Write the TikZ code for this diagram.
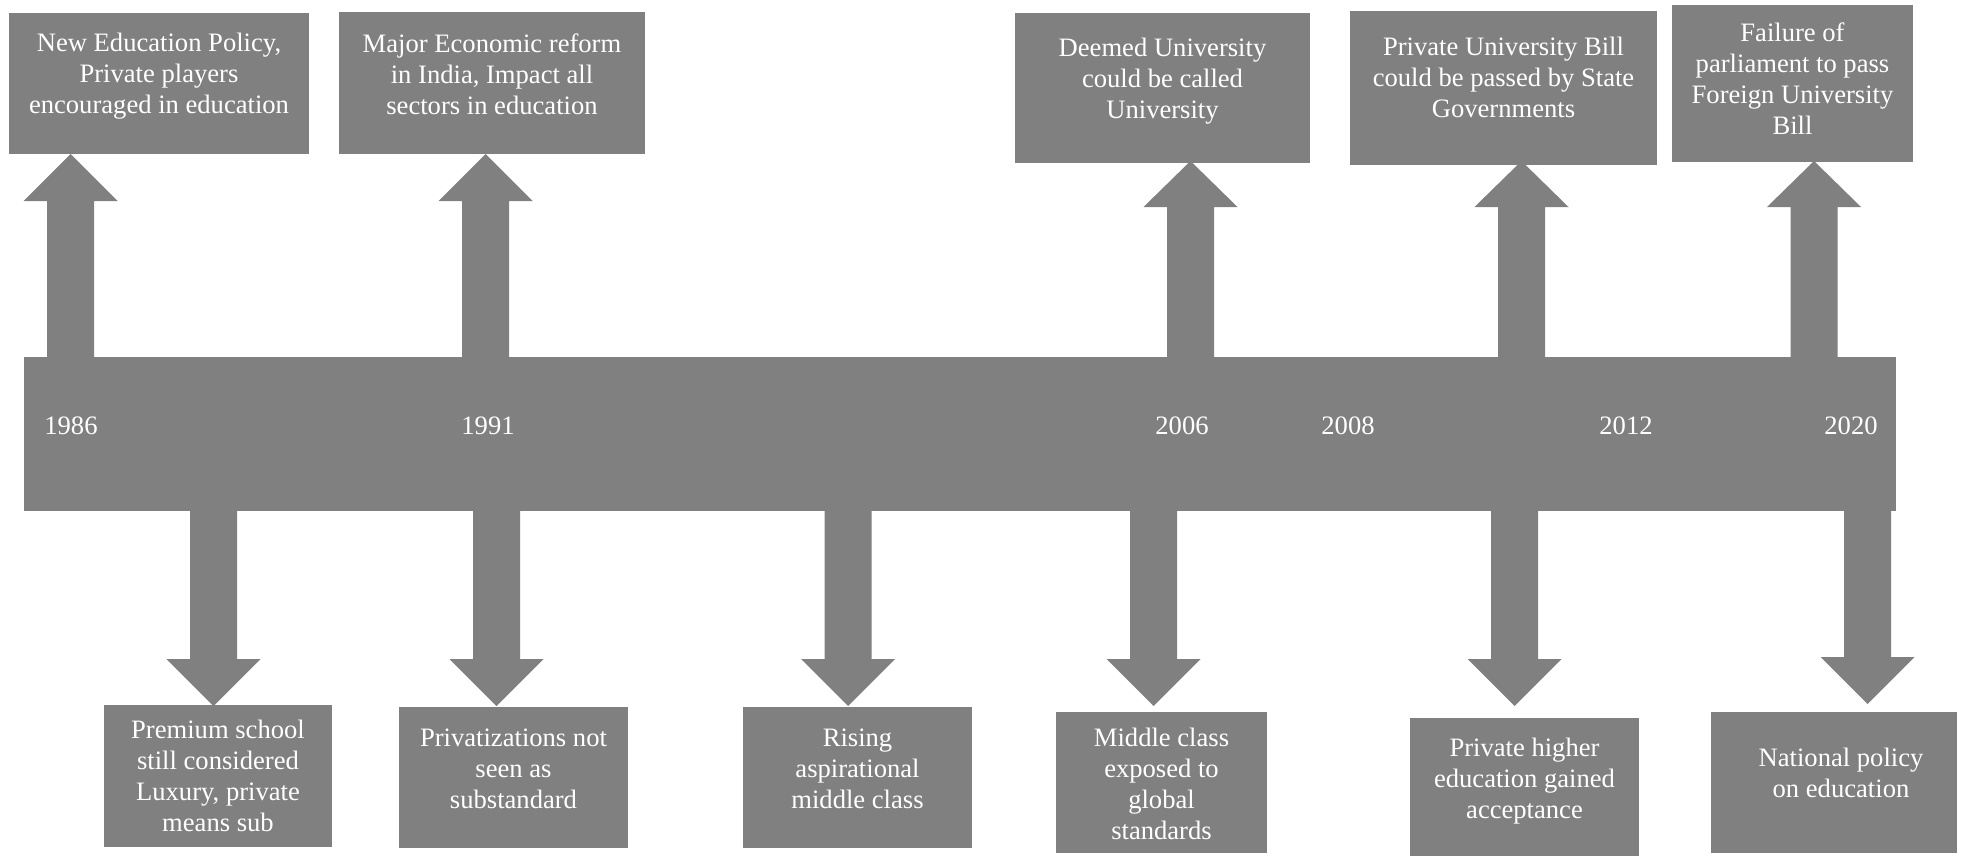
\documentclass[tikz,border=0pt]{standalone}
\usepackage{fontspec}
\setmainfont{Liberation Serif}
\usetikzlibrary{calc}
\definecolor{boxgray}{RGB}{128,128,128}
% Block arrow: #1 base point, #2 tip point, #3 signed head length (px)
\newcommand\blockarrow[3]{%
  \fill[boxgray] ($(#1)+(-23.5,0)$) -- ($(#2)+(-23.5,#3)$) -- ($(#2)+(-47,#3)$)
    -- (#2) -- ($(#2)+(47,#3)$) -- ($(#2)+(23.5,#3)$) -- ($(#1)+(23.5,0)$) -- cycle;}
\begin{document}
\begin{tikzpicture}[x=0.5pt,y=-0.5pt,
  panel/.style n args={2}{fill=boxgray, draw=none, inner sep=0pt, outer sep=0pt,
    minimum width=#1*0.5pt, minimum height=#2*0.5pt, anchor=north west},
  lbl/.style={text=white, align=center, inner sep=0pt,
    font=\fontsize{13.3}{15.5}\selectfont},
  year/.style={text=white, inner sep=0pt, font=\fontsize{13.3}{15.5}\selectfont}]
\useasboundingbox[fill=white] (0,0) rectangle (1966,856);

% timeline bar
\node[panel={1872}{154}] (bar) at (23.7,357) {};

% event boxes above the bar
\node[panel={300}{141}] (t1) at (9,13) {};
\node[panel={306}{142}] (t2) at (339,12) {};
\node[panel={295}{150}] (t3) at (1015,13) {};
\node[panel={307}{154}] (t4) at (1350,11) {};
\node[panel={241}{157}] (t5) at (1672,5) {};

% outcome boxes below the bar
\node[panel={228}{142}] (b1) at (104,705) {};
\node[panel={229}{141}] (b2) at (399,707) {};
\node[panel={229}{141}] (b3) at (743,707) {};
\node[panel={211}{141}] (b4) at (1056,712) {};
\node[panel={229}{140}] (b5) at (1410,718) {};
\node[panel={246}{141}] (b6) at (1711,712) {};

% texts of the upper boxes
\node[lbl, anchor=north] (t1x) at (159,33) {New Education Policy,\\Private players\\encouraged in education};
\node[lbl, anchor=north] (t2x) at (492,33) {Major Economic reform\\in India, Impact all\\sectors in education};
\node[lbl, anchor=north] (t3x) at (1162.5,38) {Deemed University\\could be called\\University};
\node[lbl, anchor=north] (t4x) at (1503.5,37) {Private University Bill\\could be passed by State\\Governments};
\node[lbl, anchor=north] (t5x) at (1792.5,22) {Failure of\\parliament to pass\\Foreign University\\Bill};

% texts of the lower boxes
\node[lbl, anchor=north] (b1x) at (218,720) {Premium school\\still considered\\Luxury, private\\means sub};
\node[lbl, anchor=north] (b2x) at (513.5,728) {Privatizations not\\seen as\\substandard};
\node[lbl, anchor=north] (b3x) at (857.5,728) {Rising\\aspirational\\middle class};
\node[lbl, anchor=north] (b4x) at (1161.5,728) {Middle class\\exposed to\\global\\standards};
\node[lbl, anchor=north] (b5x) at (1524.5,738) {Private higher\\education gained\\acceptance};
\node[lbl, anchor=north] (b6x) at (1841,748) {National policy\\on education};

% years on the bar
\node[year] (y1986) at (71,426) {1986};
\node[year] (y1991) at (488,426) {1991};
\node[year] (y2006) at (1182,426) {2006};
\node[year] (y2008) at (1348,426) {2008};
\node[year] (y2012) at (1626,426) {2012};
\node[year] (y2020) at (1851,426) {2020};

% upward arrows from the bar to the events
\coordinate (ua1) at (70.5,357);  \coordinate (ua1t) at (ua1 |- t1.south);
\coordinate (ua2) at (485.5,357); \coordinate (ua2t) at (ua2 |- t2.south);
\coordinate (ua3) at (1190.5,357);\coordinate (ua3t) at (1190.5,161);
\coordinate (ua4) at (1521.5,357);\coordinate (ua4t) at (1521.5,161);
\coordinate (ua5) at (1814,357);  \coordinate (ua5t) at (1814,161);
\blockarrow{ua1}{ua1t}{47}
\blockarrow{ua2}{ua2t}{47}
\blockarrow{ua3}{ua3t}{46}
\blockarrow{ua4}{ua4t}{46}
\blockarrow{ua5}{ua5t}{46}

% downward arrows from the bar to the outcomes
\coordinate (da1) at (213.5,511);  \coordinate (da1t) at (213.5,706);
\coordinate (da2) at (496.5,511);  \coordinate (da2t) at (496.5,706);
\coordinate (da3) at (848,511);    \coordinate (da3t) at (848,706);
\coordinate (da4) at (1153.5,511); \coordinate (da4t) at (1153.5,706);
\coordinate (da5) at (1514.5,511); \coordinate (da5t) at (1514.5,706);
\coordinate (da6) at (1867.5,508); \coordinate (da6t) at (1867.5,704);
\blockarrow{da1}{da1t}{-47}
\blockarrow{da2}{da2t}{-47}
\blockarrow{da3}{da3t}{-47}
\blockarrow{da4}{da4t}{-47}
\blockarrow{da5}{da5t}{-47}
\blockarrow{da6}{da6t}{-47}
\end{tikzpicture}
\end{document}
